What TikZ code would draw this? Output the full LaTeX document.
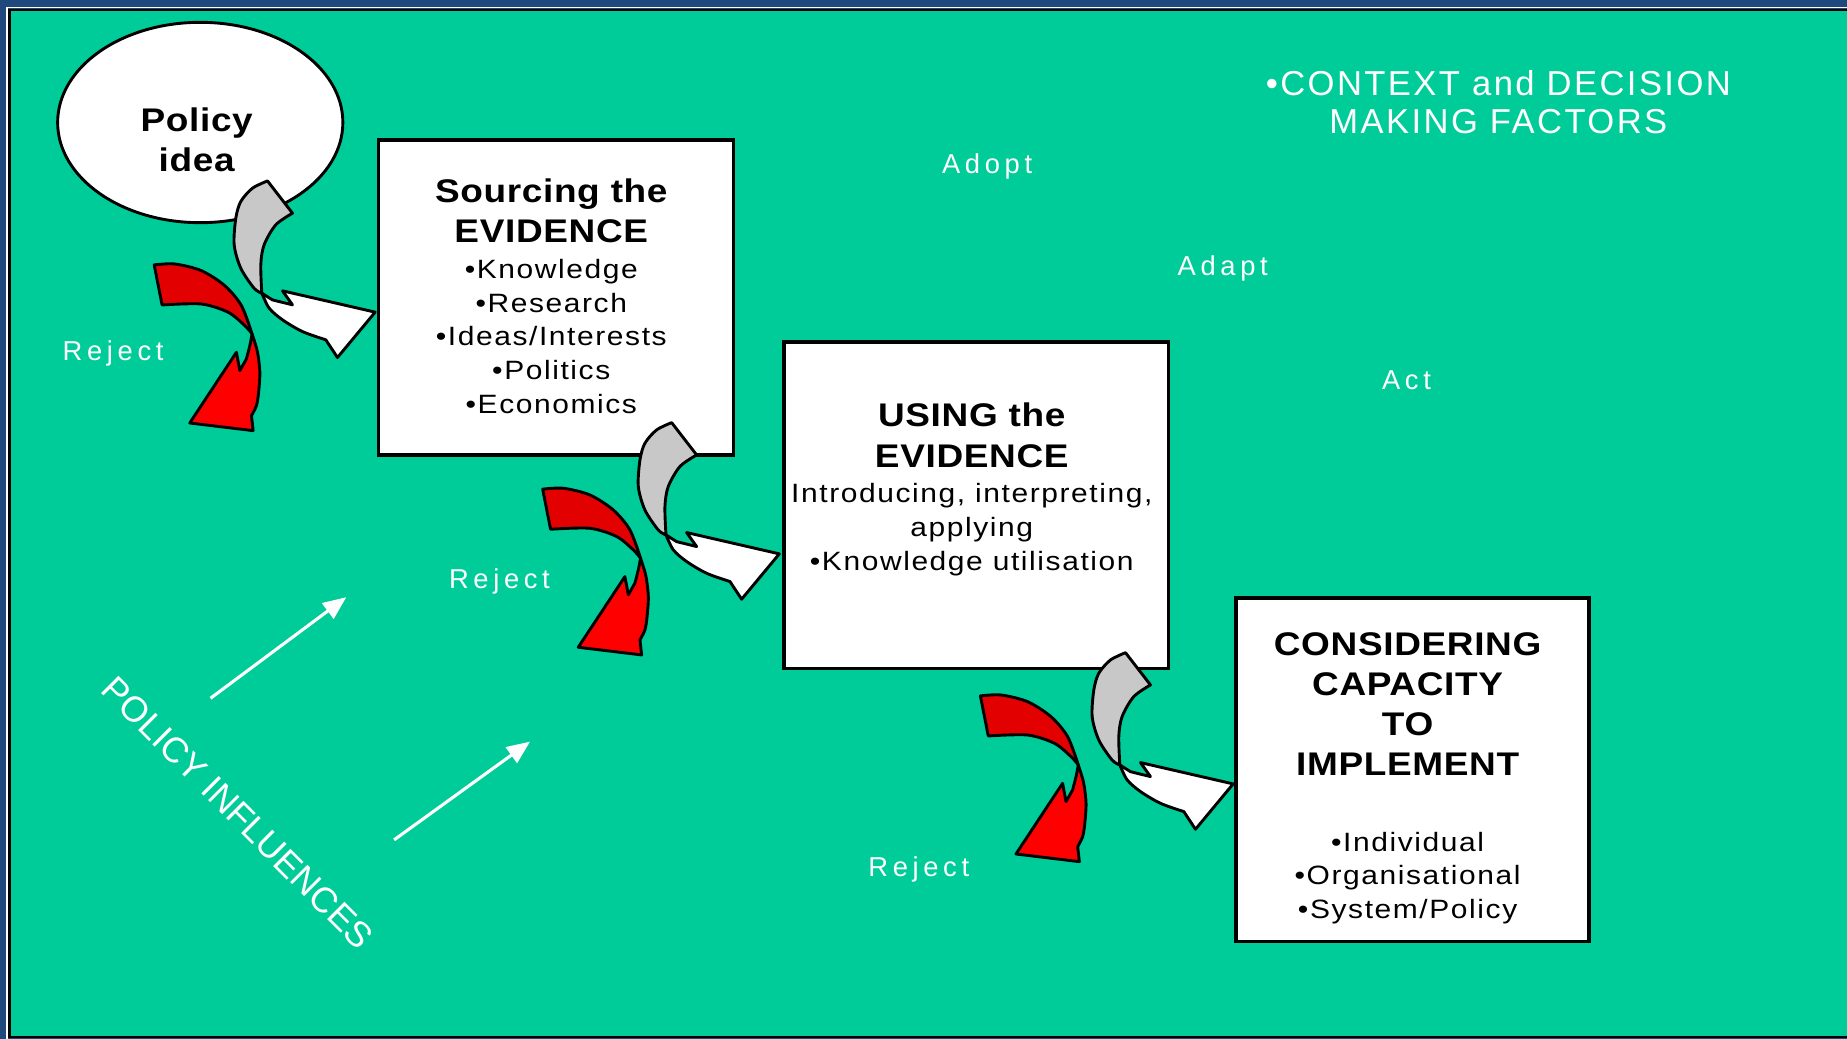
\documentclass[tikz,border=0pt]{standalone}
\usepackage{fontspec}
\setmainfont{Liberation Sans}
\newfontfamily\bodyfam[FakeStretch=1.13,LetterSpace=6]{Liberation Sans}
\newfontfamily\headfam[FakeStretch=1.13,LetterSpace=2]{Liberation Sans}
\newfontfamily\notefam[LetterSpace=7]{Liberation Sans}
\newfontfamily\tagfam[LetterSpace=17]{Liberation Sans}
\usetikzlibrary{arrows.meta,shapes.geometric}
\definecolor{slide}{RGB}{0,204,153}
\definecolor{frameblue}{RGB}{31,73,125}
\definecolor{forkgrey}{RGB}{200,200,200}
\definecolor{rejectdark}{RGB}{226,0,0}
\definecolor{rejectred}{RGB}{255,0,0}
\newcommand{\headsize}{\headfam\bfseries\fontsize{7.9pt}{9.9pt}\selectfont}
\newcommand{\bodysize}{\bodyfam\fontsize{6.4pt}{8.15pt}\selectfont}

\begin{document}
\begin{tikzpicture}[x=0.01cm,y=-0.01cm,>={Triangle[length=5.6pt,width=4.6pt]},
		box/.style={draw,fill=white,line width=0.85pt,inner sep=0pt,anchor=north west},
		txt/.style={align=center,inner sep=0pt,anchor=north,font=\bodysize},
		tag/.style={text=white,inner sep=0pt,anchor=base,font=\tagfam\fontsize{6.6pt}{8pt}\selectfont},
		ribbon/.style={draw=black,line width=0.7pt,line join=round}]
	\useasboundingbox (0,0) rectangle (1568,882);
	\fill[frameblue] (0,0) rectangle (1568,882);
	\draw[white,line width=0.4pt] (6,6.5) rectangle (1590,890);
	\filldraw[fill=slide,draw=black,line width=0.6pt] (8,8.5) rectangle (1590,880.5);

	\node[draw,ellipse,fill=white,line width=0.7pt,inner sep=0pt,minimum width=2.42cm,minimum height=1.7cm] (idea) at (170,104) {};
	\node[txt] (idea-txt) at (167,90.6) {{\headsize Policy}\\[1.5pt]{\headsize idea}};

	\node[box,minimum width=3.01cm,minimum height=2.67cm] (source) at (320,117.5) {};
	\node[txt] (source-txt) at (468,150.8) {{\headsize Sourcing the}\\[1.7pt]{\headsize EVIDENCE}\\[0.4pt]%
		•Knowledge\\•Research\\•Ideas/Interests\\•Politics\\•Economics};

	\node[box,minimum width=3.265cm,minimum height=2.77cm] (use) at (664,289) {};
	\node[txt] (use-txt) at (825,341.6) {{\headsize USING the}\\[1.6pt]{\headsize EVIDENCE}\\[0.4pt]%
		Introducing, interpreting,\\applying\\•Knowledge utilisation};

	\node[box,minimum width=2.995cm,minimum height=2.915cm] (capacity) at (1048,506) {};
	\node[txt] (capacity-txt) at (1195,536.4) {{\headsize CONSIDERING}\\[1.5pt]{\headsize CAPACITY}\\[1.5pt]%
		{\headsize TO}\\[1.5pt]{\headsize IMPLEMENT}\\[10.1pt]•Individual\\•Organisational\\•System/Policy};

	\foreach \tx/\ty/\rx/\ry in {318.5/265/214/283.5,661.6/470.2/543.8/473.9,1046.9/665.5/915.4/649.4}{
		\begin{scope}[shift={(\rx,\ry)}]
			\filldraw[ribbon,fill=rejectdark] (-83.1,-58.6) -- plot[smooth] coordinates {(-83.1,-58.6) (-65.6,-59.4) (-43,-53.7) (-23.2,-41) (-9,-24) (0,0)}
				-- plot[smooth] coordinates {(0,0) (-6.2,-7.1) (-20.3,-18.4) (-43,-25.4) (-76.4,-24.6)} -- cycle;
			\filldraw[ribbon,fill=rejectred] (0,0) -- plot[smooth] coordinates {(0,0) (4.5,15) (6.6,32.6) (5.5,50) (3.7,60.9) (-0.5,69.3)}
				-- (0.9,82.1) -- (-52.9,75.6) -- (-13.3,15.6) -- (-10.4,31.1) -- (-4.8,21.2)
				-- plot[smooth] coordinates {(-4.8,21.2) (-1.9,9.9) (0,0)} -- cycle;
		\end{scope}
		\begin{scope}[shift={(\tx,\ty)}]
			\filldraw[ribbon,fill=forkgrey] (-91.4,-111.4) -- (-70.2,-84)
				-- plot[smooth] coordinates {(-70.2,-84) (-84.4,-74.1) (-94.3,-57.1) (-97.1,-40.1) (-96.2,-16.1)}
				-- plot[smooth] coordinates {(-96.2,-16.1) (-102.8,-20.3) (-114.1,-37.3) (-119.7,-57.1) (-118.3,-79.8) (-114.1,-93.9) (-104.2,-105.2) (-91.4,-111.4)} -- cycle;
			\filldraw[ribbon,fill=white] (-96.2,-16.1) -- (-87.2,-10.4) -- (-70.2,-6.2) -- (-78.7,-18.1) -- (0,0) -- (-32,38.5)
				-- plot[smooth] coordinates {(-41.9,23.5) (-61.7,16.5) (-78.7,6.5) (-90,-3.4) (-96.2,-16.1)} -- cycle;
		\end{scope}
	}

	\node[tag] (reject1) at (96,306) {Reject};
	\node[tag] (reject2) at (424,500) {Reject};
	\node[tag] (reject3) at (780,744.5) {Reject};
	\node[tag] (adopt) at (838,147.5) {Adopt};
	\node[tag] (adapt) at (1038,233.5) {Adapt};
	\node[tag] (act) at (1194,330.5) {Act};
	\node[txt,text=white,font=\notefam\fontsize{8.35pt}{9.3pt}\selectfont] (factors) at (1272,58.9) {•CONTEXT and DECISION\\MAKING FACTORS};

	\node[text=white,inner sep=0pt,rotate=-45,font=\fontsize{8.6pt}{10pt}\selectfont] (influences) at (202,690) {POLICY INFLUENCES};
	\draw[white,line width=0.75pt,->] (178.7,592.8) -- (294,507);
	\draw[white,line width=0.75pt,->] (334.6,713) -- (450,629.6);
\end{tikzpicture}
\end{document}
